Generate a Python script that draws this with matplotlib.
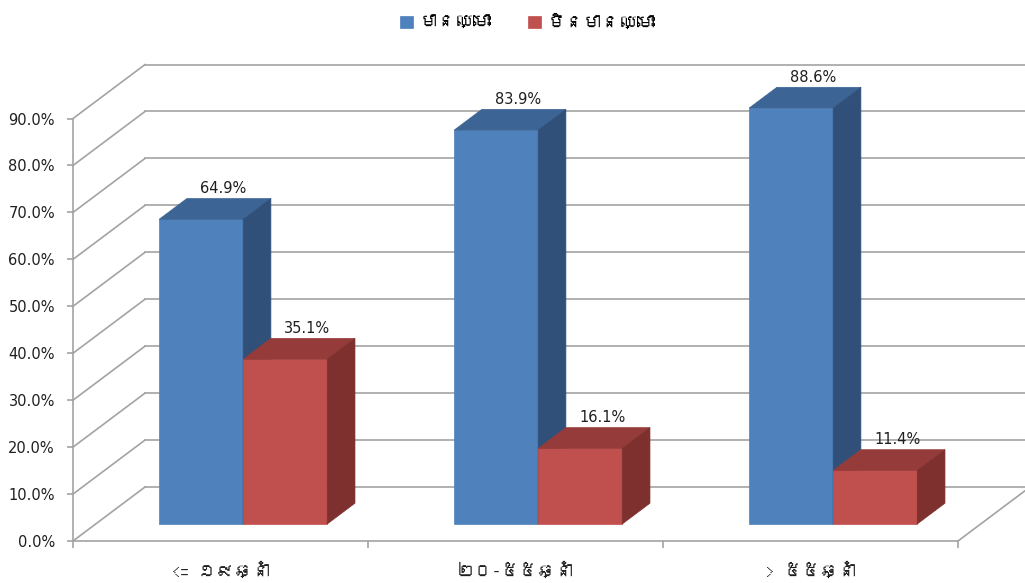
import numpy as np
import matplotlib
matplotlib.use('Agg')
import matplotlib.pyplot as plt
from matplotlib import font_manager
from matplotlib.ft2font import FT2Font
from matplotlib.patches import Polygon
from matplotlib.ticker import FuncFormatter

# data
categories = ['<= ១៩ឆ្នាំ', '២០-៥៥ឆ្នាំ', '> ៥៥ឆ្នាំ']
series_names = ['មានឈ្មោះ', 'មិនមានឈ្មោះ']
named = [64.9, 83.9, 88.6]
unnamed = [35.1, 16.1, 11.4]
yticks = [0, 10, 20, 30, 40, 50, 60, 70, 80, 90]

# colours (front, top, side)
blue = ('#4F81BD', '#3C6494', '#30507A')
red = ('#C0504D', '#953C3A', '#7D302E')
grid_col = '#A3A3A3'

# oblique depth: full wall depth in data units
DX = 0.244
DY = 11.5
Z0, Z1 = 0.315, 0.70   # bar depth range
GAP, W = 0.215, 0.285  # gap at category edge, bar width


def proj(x, y, z):
    return x + z * DX, y + z * DY


def khmer_font():
    # look for any installed font that has Khmer glyphs
    for f in font_manager.fontManager.ttflist:
        try:
            if 0x1798 in FT2Font(f.fname).get_charmap():
                return f.name
        except Exception:
            pass
    return 'DejaVu Sans'


kh = [khmer_font(), 'DejaVu Sans']

fig = plt.figure(figsize=(10.25, 5.83), dpi=100)
ax = fig.add_axes([0, 0, 1, 1])
ax.set_xlim(-73 / 295, (1025 - 73) / 295)
ax.set_ylim((541 - 583) / 4.694, 541 / 4.694)
ax.patch.set_alpha(0)

# back wall gridlines and left side wall diagonals
for v in yticks:
    x0, y0 = proj(0, v, 1)
    x1, y1 = proj(3, v, 1)
    ax.plot([x0, x1], [y0, y1], color=grid_col, lw=1.2, zorder=1)
    xa, ya = proj(0, v, 0)
    ax.plot([xa, x0], [ya, y0], color=grid_col, lw=1.2, zorder=1)
# floor right edge
xa, ya = proj(3, 0, 0)
xb, yb = proj(3, 0, 1)
ax.plot([xa, xb], [ya, yb], color=grid_col, lw=1.2, zorder=1)

idx = np.arange(len(categories))
handles = []
for k, (vals, cols) in enumerate([(named, blue), (unnamed, red)]):
    xl = idx + GAP + k * W
    b = ax.bar(xl + Z0 * DX, vals, width=W, bottom=Z0 * DY, align='edge',
               color=cols[0], edgecolor=cols[0], lw=0.5, zorder=2 + 2 * k)
    handles.append(b)
    for x, v in zip(xl, vals):
        xr = x + W
        top = [proj(x, v, Z0), proj(xr, v, Z0), proj(xr, v, Z1), proj(x, v, Z1)]
        side = [proj(xr, 0, Z0), proj(xr, v, Z0), proj(xr, v, Z1), proj(xr, 0, Z1)]
        ax.add_patch(Polygon(top, closed=True, fc=cols[1], ec=cols[1], lw=0.5,
                             zorder=3 + 2 * k))
        ax.add_patch(Polygon(side, closed=True, fc=cols[2], ec=cols[2], lw=0.5,
                             zorder=3 + 2 * k))
        lx, ly = proj(x + W / 2, v, Z1)
        ax.annotate(f'{v:.1f}%', (lx, ly), xytext=(-4, 2), textcoords='offset points',
                    ha='center', va='bottom', fontsize=10.5, color='#1F1F1F', zorder=10)

# axes lines
for s in ['top', 'right']:
    ax.spines[s].set_visible(False)
ax.spines['left'].set_position(('data', 0))
ax.spines['left'].set_bounds(0, 90)
ax.spines['bottom'].set_position(('data', 0))
ax.spines['bottom'].set_bounds(0, 3)
for s in ['left', 'bottom']:
    ax.spines[s].set_color(grid_col)
    ax.spines[s].set_linewidth(1.2)
    ax.spines[s].set_zorder(1)

ax.set_yticks(yticks)
ax.yaxis.set_major_formatter(FuncFormatter(lambda v, p: f'{v:.1f}%'))
ax.tick_params(axis='y', direction='out', length=4, width=1.2, color=grid_col,
               pad=9, labelsize=10.5, labelcolor='#1F1F1F')

ax.set_xticks([0, 1, 2, 3])
ax.set_xticklabels([])
ax.set_xticks(idx + 0.5, minor=True)
ax.set_xticklabels(categories, minor=True, fontsize=13, color='#1F1F1F', family=kh)
ax.tick_params(axis='x', which='major', direction='out', length=5, width=1.2,
               color=grid_col)
ax.tick_params(axis='x', which='minor', length=0, pad=15)

leg = fig.legend(handles, series_names, loc='center', bbox_to_anchor=(0.515, 0.962),
                 ncol=2, frameon=False, handlelength=0.7, handleheight=0.7,
                 handletextpad=0.4, columnspacing=2.0, prop={'family': kh, 'size': 13})

fig.savefig('out.png', dpi=100)
